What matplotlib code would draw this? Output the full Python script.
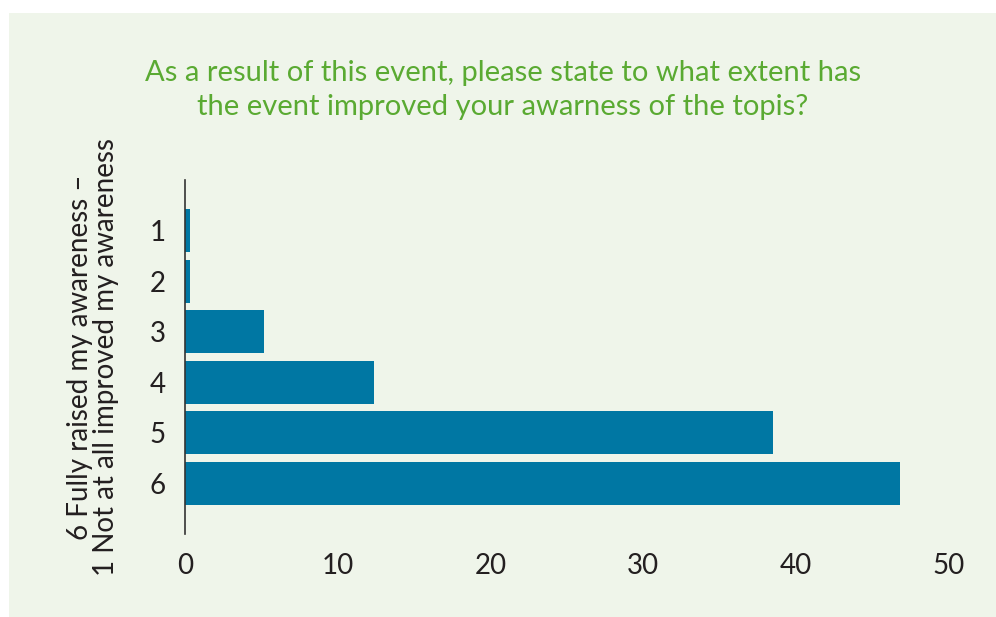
import numpy as np
import matplotlib
matplotlib.use("Agg")
import matplotlib.pyplot as plt

# ---- data ----
CATEGORIES = ["1", "2", "3", "4", "5", "6"]
VALUES = [0.3, 0.3, 5.2, 12.4, 38.5, 46.8]
XTICKS = [0, 10, 20, 30, 40, 50]

TITLE = ("As a result of this event, please state to what extent has\n"
         "the event improved your awarness of the topis?")
YLABEL = "6 Fully raised my awareness –\n1 Not at all improved my awareness"

BG = "#eff5ea"
BAR = "#0077a3"
GREEN = "#5aaa32"
TXT = "#231f20"

plt.rcParams["font.family"] = ["Lato", "DejaVu Sans"]

fig = plt.figure(figsize=(9.96, 6.17), dpi=100)
fig.patch.set_facecolor("white")

# light green panel behind everything
panel = plt.Rectangle((9 / 996, 0), 1 - 9 / 996, 1 - 13 / 617,
                      transform=fig.transFigure, facecolor=BG,
                      edgecolor="none", zorder=-10)
fig.add_artist(panel)

ax = fig.add_axes([185 / 996, 1 - 534 / 617, (949 - 185) / 996, (534 - 180) / 617])
ax.set_facecolor("none")

y = np.arange(len(CATEGORIES))
ax.barh(y, VALUES, height=0.85, color=BAR, zorder=2)

ax.set_xlim(0, 50)
ax.set_ylim(len(CATEGORIES), -1)
ax.set_yticks(y)
ax.set_yticklabels(CATEGORIES)
ax.set_xticks(XTICKS)
ax.tick_params(axis="both", length=0, labelsize=20, colors=TXT)
ax.tick_params(axis="y", pad=14)
ax.tick_params(axis="x", pad=14)

for side in ["top", "right", "bottom"]:
    ax.spines[side].set_visible(False)
ax.spines["left"].set_color("#333333")
ax.spines["left"].set_linewidth(1.2)

ax.set_ylabel(YLABEL, fontsize=20, color=TXT, linespacing=1.0, labelpad=22)

fig.text(0.505, 1 - 90 / 617, TITLE, ha="center", va="center",
         fontsize=21, color=GREEN, linespacing=1.35)

fig.savefig("out.png", dpi=100, facecolor=fig.get_facecolor())
